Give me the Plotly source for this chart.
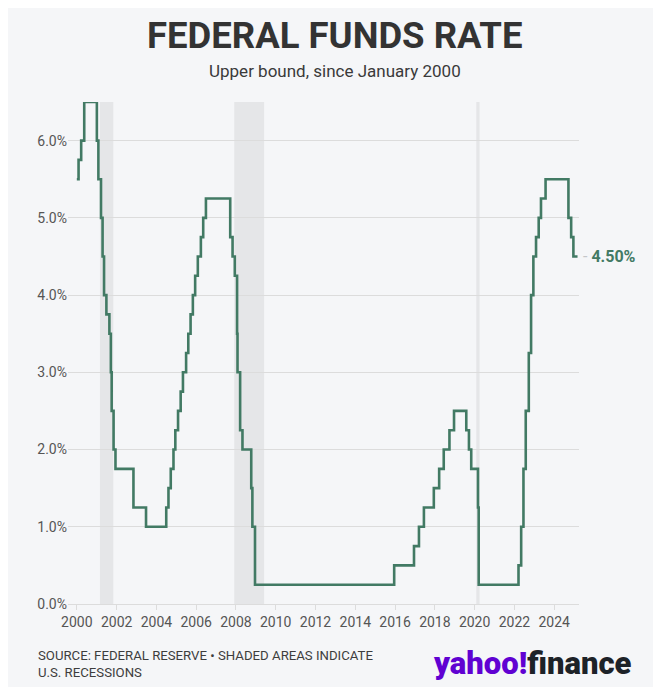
import plotly.graph_objects as go

# Fed funds target rate, upper bound (%) - change dates
dates = ['2000-01-01', '2000-02-02', '2000-03-21', '2000-05-16',
         '2001-01-03', '2001-01-31', '2001-03-20', '2001-04-18', '2001-05-15',
         '2001-06-27', '2001-08-21', '2001-09-17', '2001-10-02', '2001-11-06',
         '2001-12-11', '2002-11-06', '2003-06-25',
         '2004-06-30', '2004-08-10', '2004-09-21', '2004-11-10', '2004-12-14',
         '2005-02-02', '2005-03-22', '2005-05-03', '2005-06-30', '2005-08-09',
         '2005-09-20', '2005-11-01', '2005-12-13',
         '2006-01-31', '2006-03-28', '2006-05-10', '2006-06-29',
         '2007-09-18', '2007-10-31', '2007-12-11',
         '2008-01-22', '2008-01-30', '2008-03-18', '2008-04-30', '2008-10-08',
         '2008-10-29', '2008-12-16',
         '2015-12-16', '2016-12-14', '2017-03-15', '2017-06-14', '2017-12-13',
         '2018-03-21', '2018-06-13', '2018-09-26', '2018-12-19',
         '2019-08-01', '2019-09-19', '2019-10-31', '2020-03-03', '2020-03-16',
         '2022-03-17', '2022-05-05', '2022-06-16', '2022-07-28', '2022-09-22',
         '2022-11-03', '2022-12-15', '2023-02-02', '2023-03-23', '2023-05-04',
         '2023-07-27', '2024-09-19', '2024-11-08', '2024-12-19', '2025-03-05']
rates = [5.50, 5.75, 6.00, 6.50,
         6.00, 5.50, 5.00, 4.50, 4.00,
         3.75, 3.50, 3.00, 2.50, 2.00,
         1.75, 1.25, 1.00,
         1.25, 1.50, 1.75, 2.00, 2.25,
         2.50, 2.75, 3.00, 3.25, 3.50,
         3.75, 4.00, 4.25,
         4.50, 4.75, 5.00, 5.25,
         4.75, 4.50, 4.25,
         3.50, 3.00, 2.25, 2.00, 1.50,
         1.00, 0.25,
         0.50, 0.75, 1.00, 1.25, 1.50,
         1.75, 2.00, 2.25, 2.50,
         2.25, 2.00, 1.75, 1.25, 0.25,
         0.50, 1.00, 1.75, 2.50, 3.25,
         4.00, 4.50, 4.75, 5.00, 5.25,
         5.50, 5.00, 4.75, 4.50, 4.50]

# US recessions (NBER)
rec_start = ['2001-03-01', '2007-12-01', '2020-02-01']
rec_end = ['2001-11-01', '2009-06-01', '2020-04-01']

year_ticks = [f'{y}-01-01' for y in range(2000, 2026, 2)]
year_labels = [str(y) for y in range(2000, 2026, 2)]
y_ticks = [0, 1, 2, 3, 4, 5, 6]
y_labels = ['0.0%', '1.0%', '2.0%', '3.0%', '4.0%', '5.0%', '6.0%']

green = '#427a64'
W, H = 653, 679          # page body has an 8px margin
L, R, T, B = 60, 82, 94, 83
plot_w = W - L - R
plot_h = H - T - B


def px_x(x):
    return (x - L) / plot_w


def px_y(y):
    return (H - B - y) / plot_h


fig = go.Figure()
fig.add_trace(go.Scatter(x=dates, y=rates, mode='lines', line_shape='hv',
                         line=dict(color=green, width=2.6), hoverinfo='skip'))

for s, e in zip(rec_start, rec_end):
    fig.add_vrect(x0=s, x1=e, fillcolor='#e5e6e8', line_width=0, layer='below')

fig.add_annotation(x=dates[-1], y=rates[-1], xref='x', yref='y',
                   text="<span style='color:#c4c6c9'>-</span> <b>4.50%</b>",
                   showarrow=False, xanchor='left', xshift=3,
                   font=dict(family='Roboto', size=16, color=green))

fig.add_annotation(x=px_x(327), y=px_y(28), xref='paper', yref='paper',
                   text='<b>FEDERAL FUNDS RATE</b>', showarrow=False,
                   xanchor='center', yanchor='middle',
                   font=dict(family='Roboto', size=36.5, color='#333333'))
fig.add_annotation(x=px_x(327), y=px_y(63), xref='paper', yref='paper',
                   text='Upper bound, since January 2000', showarrow=False,
                   xanchor='center', yanchor='middle',
                   font=dict(family='Roboto', size=17, color='#3a3a3a'))

fig.add_annotation(x=px_x(28), y=px_y(656), xref='paper', yref='paper', showarrow=False,
                   text='SOURCE: FEDERAL RESERVE • SHADED AREAS INDICATE<br>U.S. RECESSIONS',
                   align='left', xanchor='left', yanchor='middle',
                   font=dict(family='Roboto', size=13.2, color='#3d3d3d'))

fig.add_annotation(x=px_x(626), y=px_y(655), xref='paper', yref='paper', showarrow=False,
                   text="<span style='color:#6001d2'>yahoo!</span><span style='color:#1d2228'>finance</span>",
                   xanchor='right', yanchor='middle',
                   font=dict(family='Roboto', size=31, weight=900))

fig.update_layout(
    width=W, height=H,
    margin=dict(l=L, r=R, t=T, b=B),
    paper_bgcolor='#f5f6f8', plot_bgcolor='#f5f6f8',
    showlegend=False,
    xaxis=dict(type='date', range=['1999-07-23', '2025-04-01'],
               tickvals=year_ticks, ticktext=year_labels,
               showgrid=False, zeroline=False, showline=True,
               linecolor='#dcdcdc', linewidth=1,
               ticks='outside', ticklen=5, tickcolor='#dcdcdc',
               tickfont=dict(family='Roboto', size=14, color='#555555')),
    yaxis=dict(range=[0, 6.5], tickvals=y_ticks, ticktext=y_labels,
               showgrid=True, gridcolor='#dcdcdc', gridwidth=1,
               zeroline=False, showline=False, ticks='',
               tickfont=dict(family='Roboto', size=14, color='#555555')),
)

fig.write_html('out.html')
